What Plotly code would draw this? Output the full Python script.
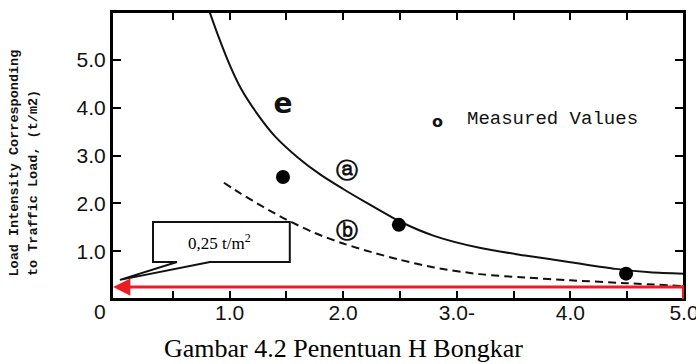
import plotly.graph_objects as go

# ---- data ----
curve_a_x = [0.82, 0.9, 1.0, 1.1, 1.25, 1.4, 1.6, 1.8, 2.0, 2.2, 2.5, 2.8, 3.2, 3.6, 4.0, 4.4, 4.7, 5.0]
curve_a_y = [6.03, 5.50, 4.90, 4.40, 3.85, 3.40, 2.96, 2.60, 2.30, 2.02, 1.62, 1.32, 1.07, 0.91, 0.77, 0.63, 0.56, 0.53]

curve_b_x = [0.95, 1.1, 1.3, 1.5, 1.75, 2.0, 2.25, 2.5, 2.8, 3.2, 3.6, 4.0, 4.5, 5.0]
curve_b_y = [2.43, 2.20, 1.92, 1.66, 1.38, 1.16, 0.98, 0.82, 0.66, 0.52, 0.45, 0.39, 0.33, 0.27]

filled_x = [1.47, 2.49, 4.49]
filled_y = [2.55, 1.55, 0.53]

open_x = [1.47]
open_y = [4.04]

x_tickvals = [0.5, 1.0, 1.5, 2.0, 2.5, 3.0, 3.5, 4.0, 4.5, 5.0]
x_ticktext = ["", "1.0", "", "2.0", "", "3.0-", "", "4.0", "", "5.0"]
y_tickvals = [1, 2, 3, 4, 5]
y_ticktext = ["1.0", "2.0", "3.0", "4.0", "5.0"]

load_value = 0.25          # t/m2, red arrow level
x_max = 5.0

RED = "#ED1C24"
INK = "#111111"

fig = go.Figure()

fig.add_trace(go.Scatter(x=curve_a_x, y=curve_a_y, mode="lines",
                         line=dict(color=INK, width=2, shape="spline", smoothing=0.8), showlegend=False))
fig.add_trace(go.Scatter(x=curve_b_x, y=curve_b_y, mode="lines",
                         line=dict(color=INK, width=2, dash="8px,5px", shape="spline", smoothing=0.8),
                         showlegend=False))
fig.add_trace(go.Scatter(x=filled_x, y=filled_y, mode="markers",
                         marker=dict(color="black", size=14), showlegend=False))
fig.add_trace(go.Scatter(x=open_x, y=open_y, mode="text", text=["<b>e</b>"],
                         textfont=dict(family="DejaVu Sans", size=28, color=INK),
                         textposition="middle center", showlegend=False))

# plot frame
fig.add_shape(type="rect", xref="paper", yref="paper", x0=0, x1=1, y0=0, y1=1,
              line=dict(color="black", width=2), layer="above")

# callout box with pointer
bx0, bx1, by0, by1 = 0.326, 1.53, 0.774, 1.61
px0, px1, tipx, tipy = 0.537, 0.827, 0.035, 0.40
path = (f"M {bx0},{by0} L {px0},{by0} L {tipx},{tipy} L {px1},{by0} L {bx1},{by0} "
        f"L {bx1},{by1} L {bx0},{by1} Z")
fig.add_shape(type="path", path=path, xref="x", yref="y",
              line=dict(color="#111", width=2), fillcolor="white", layer="above")

# red vertical bar at the right end
fig.add_shape(type="line", xref="x", yref="y", x0=x_max, x1=x_max, y0=-0.03, y1=0.30,
              line=dict(color=RED, width=4), layer="above")

annotations = [
    dict(x=-0.025, y=load_value, ax=x_max, ay=load_value, axref="x", ayref="y",
         xref="x", yref="y", showarrow=True, arrowhead=2, arrowsize=1.15,
         arrowwidth=3, arrowcolor=RED, text=""),
    dict(x=0.907, y=1.19, xref="x", yref="y", showarrow=False,
         text="0,25 t/m<sup>2</sup>", font=dict(family="Liberation Serif", size=17, color="black")),
    dict(x=2.03, y=2.68, xref="x", yref="y", showarrow=False, text="<b>ⓐ</b>",
         font=dict(family="DejaVu Sans", size=22, color=INK)),
    dict(x=2.03, y=1.43, xref="x", yref="y", showarrow=False, text="<b>ⓑ</b>",
         font=dict(family="DejaVu Sans", size=22, color=INK)),
    dict(x=2.83, y=3.72, xref="x", yref="y", showarrow=False, text="<b>o</b>",
         font=dict(family="DejaVu Sans", size=16, color=INK)),
    dict(x=3.07, y=3.77, xref="x", yref="y", showarrow=False, xanchor="left",
         text="Measured Values", font=dict(family="Liberation Mono", size=19, color=INK)),
    dict(x=-0.021, y=-0.045, xref="paper", yref="paper", showarrow=False, text="0",
         xanchor="center", yanchor="middle",
         font=dict(family="Liberation Sans", size=21, color=INK)),
    dict(x=-0.1696, y=0.073, xref="paper", yref="paper", showarrow=False, textangle=-90,
         xanchor="center", yanchor="bottom", text="<b>Load Intensity Corresponding</b>",
         font=dict(family="Liberation Mono", size=13.5, color=INK)),
    dict(x=-0.138, y=0.073, xref="paper", yref="paper", showarrow=False, textangle=-90,
         xanchor="center", yanchor="bottom", text="<b>to Traffic Load, (t/m2)</b>",
         font=dict(family="Liberation Mono", size=13.5, color=INK)),
    dict(x=0.404, y=-0.171, xref="paper", yref="paper", showarrow=False,
         xanchor="center", yanchor="middle",
         text="Gambar 4.2 Penentuan H Bongkar",
         font=dict(family="Liberation Serif", size=26, color="black")),
]

fig.update_layout(
    width=696, height=364,
    margin=dict(l=112, r=12, t=12, b=65, autoexpand=False),
    paper_bgcolor="white", plot_bgcolor="white",
    annotations=annotations,
    showlegend=False,
)
fig.update_xaxes(range=[-0.035, x_max], tickvals=x_tickvals, ticktext=x_ticktext,
                 ticks="inside", ticklen=8, tickwidth=2, tickcolor="black",
                 showline=True, linewidth=2, linecolor="black", mirror="ticks",
                 showgrid=False, zeroline=False, ticklabelstandoff=-6,
                 ticklabeloverflow="allow", automargin=False,
                 tickfont=dict(family="Liberation Sans", size=21, color=INK))
fig.update_yaxes(range=[0, 6.0], tickvals=y_tickvals, ticktext=y_ticktext,
                 ticks="inside", ticklen=9, tickwidth=2, tickcolor="black",
                 showline=True, linewidth=2, linecolor="black", mirror="ticks",
                 showgrid=False, zeroline=False, automargin=False,
                 tickfont=dict(family="Liberation Sans", size=21, color=INK))

fig.write_html("out.html", config={"displayModeBar": False},
               post_script="document.body.style.margin='0';"
                           "document.getElementById('{plot_id}').style.overflow='hidden';")
